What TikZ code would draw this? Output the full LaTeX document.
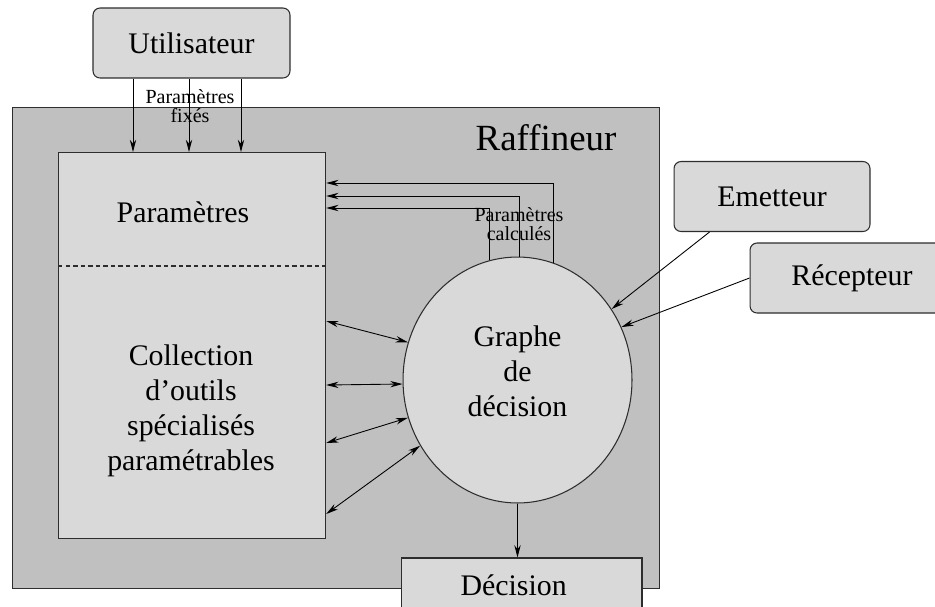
\documentclass[tikz,border=0pt]{standalone}
\usepackage{fontspec}
\setmainfont{Liberation Serif}
\usetikzlibrary{arrows.meta, positioning, shapes.geometric, calc}
\definecolor{FG}{RGB}{192,192,192}
\definecolor{LG}{RGB}{217,217,217}
\definecolor{DG}{RGB}{45,45,45}

\begin{document}
\begin{tikzpicture}[x=0.02cm, y=-0.02cm,
  box/.style={draw=DG, rounded corners=4pt, fill=LG, line width=0.6pt,
              minimum width=#1, minimum height=1.4cm, align=center,
              font=\fontsize{17}{20}\selectfont},
  frame/.style={draw=DG, fill=#1, line width=0.7pt, anchor=north west, inner sep=0pt},
  txt/.style={font=\fontsize{17}{20}\selectfont, align=center},
  lbl/.style={font=\fontsize{11.4}{10.5}\selectfont, align=center, inner sep=0pt},
  arr/.style={-{Stealth[length=7pt, width=3.6pt]}, line width=0.5pt},
  darr/.style={{Stealth[length=7pt, width=3.6pt]}-{Stealth[length=7pt, width=3.6pt]}, line width=0.5pt}
]
\useasboundingbox (0,0) rectangle (935,606);

% le raffineur
\node[frame=FG, minimum width=12.94cm, minimum height=9.62cm] (raff) at (12,107) {};
\node[font=\fontsize{21}{24}\selectfont] (rafflbl) at (546,138) {Raffineur};

% parametres + outils
\node[frame=LG, minimum width=5.34cm, minimum height=7.72cm] (outils) at (58,152) {};
\draw[DG, dash pattern=on 2.5pt off 1.8pt, line width=0.6pt]
  (outils.west |- 0,266) -- (outils.east |- 0,266);
\node[txt] (param) at (183,212) {Paramètres};
\node[txt] (coll) at (191,411) {Collection\\d'outils\\spécialisés\\paramétrables};

% graphe de decision
\node[ellipse, draw=DG, fill=LG, line width=0.6pt, minimum width=4.58cm,
      minimum height=4.92cm, inner sep=0pt, txt] (graphe) at (517.5,380)
      {Graphe\\de\\décision\\[-10pt]};

% acteurs
\node[box=3.94cm] (util)  at (191.5,43)  {Utilisateur};
\node[box=3.92cm] (emet)  at (772,196.5) {Emetteur};
\node[box=4.08cm] (recep) at (852,278)   {Récepteur};
\node[box=4.82cm, rounded corners=0pt, minimum height=1.1cm] (decis) at (521.5,585.5)
  {Décision\hspace*{9pt}};

% parametres fixes
\foreach \xx in {133,189,241}
  \draw[arr] (util.south -| \xx,0) -- (outils.north -| \xx,0);
\node[lbl] (fixes) at (190,106) {Paramètres\\fixés};

% parametres calcules
\draw[arr] (graphe.103.9) |- ($(outils.north east)+(0,56)$);
\draw[arr] (graphe.89)    |- ($(outils.north east)+(0,44)$);
\draw[arr] (graphe.73.6)  |- ($(outils.north east)+(0,31)$);
\node[lbl] (calcul) at (519,224) {Paramètres\\calculés};

% echanges outils <-> graphe
\foreach \dy/\ang in {169/161.8, 233/182, 291/199.1, 362/214.1}
  \draw[darr] ($(outils.north east)+(0,\dy)$) -- (graphe.\ang);

\draw[arr] ($(emet.south west)+(36,0)$) -- (graphe.37.3);
\draw[arr] (recep.west) -- (graphe.27.8);
\draw[arr] (graphe.south) -- (graphe.south |- decis.north);
\end{tikzpicture}
\end{document}
